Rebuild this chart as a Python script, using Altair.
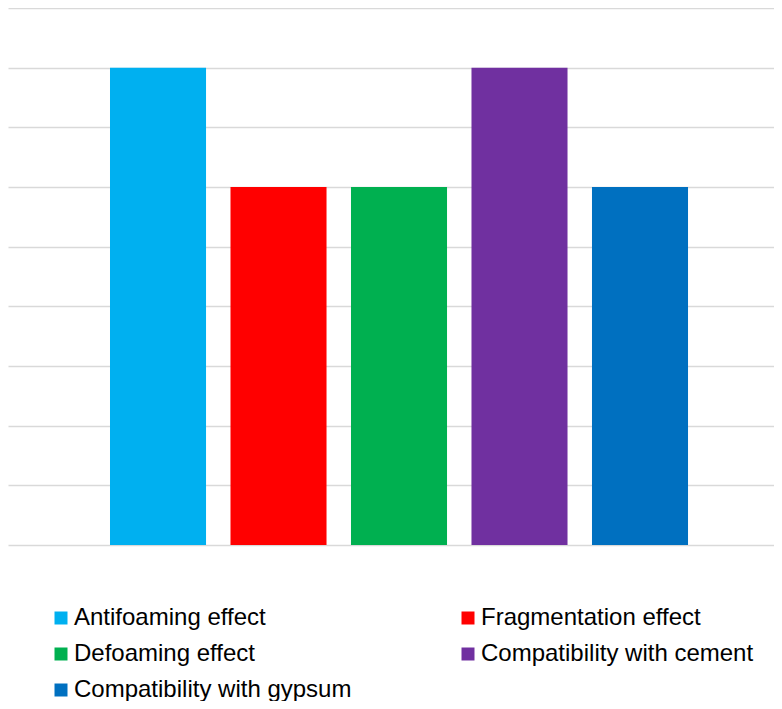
import altair as alt
import pandas as pd

categories = [
    "Antifoaming effect",
    "Fragmentation effect",
    "Defoaming effect",
    "Compatibility with cement",
    "Compatibility with gypsum",
]
values = [8, 6, 6, 8, 6]
colors = ["#00B0F0", "#FF0000", "#00B050", "#7030A0", "#0070C0"]
# legend is filled column by column: this order shows the reference's row-major layout
legend_order = [
    "Antifoaming effect",
    "Defoaming effect",
    "Compatibility with gypsum",
    "Fragmentation effect",
    "Compatibility with cement",
]
y_ticks = list(range(0, 10))

color_of = dict(zip(categories, colors))
df = pd.DataFrame({"category": categories, "value": values})

chart = (
    alt.Chart(df)
    .mark_bar()
    .encode(
        x=alt.X(
            "category:N",
            sort=categories,
            axis=None,
            scale=alt.Scale(paddingInner=0.203, paddingOuter=0.78, align=0.5426),
        ),
        y=alt.Y(
            "value:Q",
            scale=alt.Scale(domain=[0, 9], nice=False),
            axis=alt.Axis(
                values=y_ticks,
                labels=False,
                ticks=False,
                domain=False,
                title=None,
                grid=True,
                gridColor="#d9d9d9",
                gridWidth=1.5,
            ),
        ),
        color=alt.Color(
            "category:N",
            scale=alt.Scale(domain=legend_order, range=[color_of[c] for c in legend_order]),
            legend=alt.Legend(
                orient="none",
                legendX=41,
                legendY=598,
                columns=2,
                columnPadding=104,
                rowPadding=12,
                symbolType="square",
                symbolSize=169,
                symbolStrokeWidth=0,
                symbolOpacity=1,
                symbolOffset=0,
                labelOffset=1,
                labelFontSize=24,
                labelFont="Liberation Sans",
                labelColor="#000000",
                labelLimit=0,
                title=None,
                padding=0,
            ),
        ),
    )
    .properties(
        width=766,
        height=537,
        padding={"left": 0, "top": 0, "right": 0, "bottom": 156},
        autosize=alt.AutoSizeParams(type="none"),
    )
    .configure_view(stroke=None)
)

chart.save("out.html", embed_options={"renderer": "svg", "actions": False})
